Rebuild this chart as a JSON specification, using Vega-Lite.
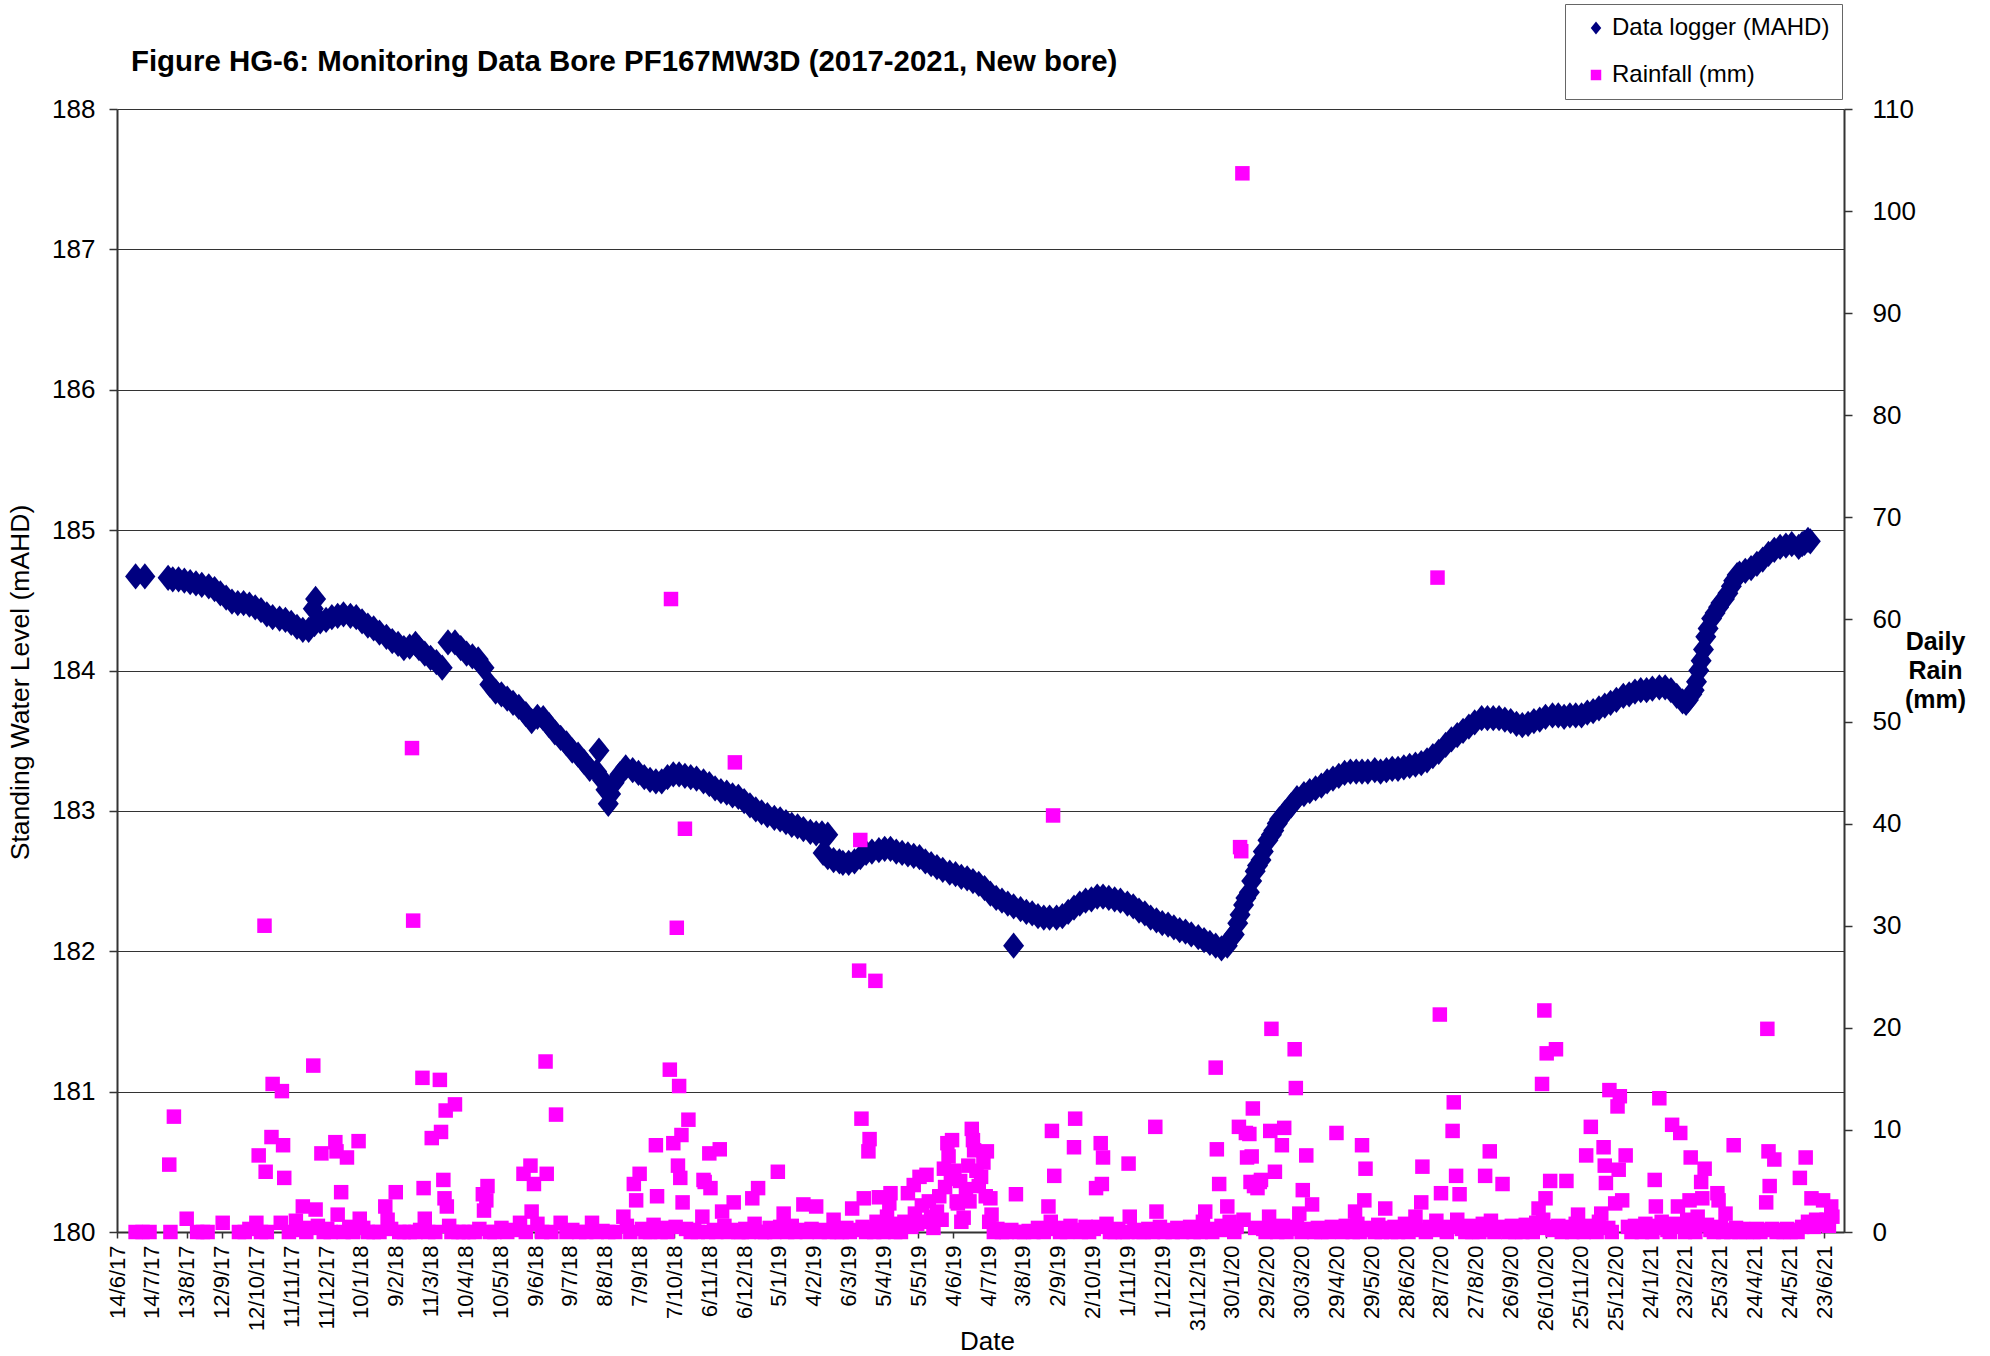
{
"$schema":"https://vega.github.io/schema/vega-lite/v6.json",
"width":1727,"height":1123,
"autosize":{"type":"none"},
"padding":{"left":117,"top":109,"right":146,"bottom":124},
"background":"white",
"title":{"text":"Figure HG-6: Monitoring Data Bore PF167MW3D (2017-2021, New bore)","anchor":"start","frame":"group","dx":14,"dy":122,"offset":25,"fontSize":29.4,"fontWeight":"bold","color":"#000","font":"Liberation Sans","baseline":"alphabetic"},
"config":{"font":"Liberation Sans","view":{"stroke":null},
 "axis":{"labelFont":"Liberation Sans","titleFont":"Liberation Sans","labelColor":"#000","titleColor":"#000","domainColor":"#333","tickColor":"#333","titleFontWeight":"normal"},
 "axisX":{"labelOverlap":false},
 "legend":{"orient":"none","legendX":1448,"legendY":-105,"padding":12,"strokeColor":"#666","fillColor":"#fff","labelFontSize":24,"labelFont":"Liberation Sans","labelColor":"#000","labelLimit":500,"symbolSize":110,"rowPadding":23,"symbolOffset":7,"labelOffset":4,"symbolStrokeWidth":0,"cornerRadius":0}},
"datasets":{
"logger":[
{"t":"2017-06-30","v":184.67},{"t":"2017-07-08","v":184.67},{"t":"2017-07-28","v":184.66},{"t":"2017-08-01","v":184.65},{"t":"2017-08-06","v":184.65},{"t":"2017-08-11","v":184.64},{"t":"2017-08-16","v":184.63},{"t":"2017-08-21","v":184.62},{"t":"2017-08-26","v":184.61},
{"t":"2017-09-01","v":184.60},{"t":"2017-09-06","v":184.58},{"t":"2017-09-11","v":184.55},{"t":"2017-09-16","v":184.52},{"t":"2017-09-21","v":184.49},{"t":"2017-09-26","v":184.48},
{"t":"2017-10-01","v":184.48},{"t":"2017-10-06","v":184.47},{"t":"2017-10-11","v":184.45},{"t":"2017-10-16","v":184.43},{"t":"2017-10-21","v":184.40},{"t":"2017-10-26","v":184.38},
{"t":"2017-11-01","v":184.37},{"t":"2017-11-06","v":184.36},{"t":"2017-11-11","v":184.34},{"t":"2017-11-16","v":184.31},{"t":"2017-11-21","v":184.29},{"t":"2017-11-26","v":184.29},{"t":"2017-11-30","v":184.44},
{"t":"2017-12-01","v":184.33},{"t":"2017-12-02","v":184.51},{"t":"2017-12-06","v":184.35},{"t":"2017-12-11","v":184.36},{"t":"2017-12-16","v":184.38},{"t":"2017-12-21","v":184.39},{"t":"2017-12-26","v":184.40},
{"t":"2018-01-01","v":184.39},{"t":"2018-01-06","v":184.38},{"t":"2018-01-11","v":184.35},{"t":"2018-01-16","v":184.32},{"t":"2018-01-21","v":184.30},{"t":"2018-01-26","v":184.27},
{"t":"2018-02-01","v":184.24},{"t":"2018-02-06","v":184.21},{"t":"2018-02-11","v":184.19},{"t":"2018-02-16","v":184.16},{"t":"2018-02-21","v":184.17},{"t":"2018-02-26","v":184.19},
{"t":"2018-03-01","v":184.16},{"t":"2018-03-06","v":184.12},{"t":"2018-03-11","v":184.09},{"t":"2018-03-16","v":184.06},{"t":"2018-03-21","v":184.02},{"t":"2018-03-26","v":184.20},
{"t":"2018-04-01","v":184.20},{"t":"2018-04-06","v":184.16},{"t":"2018-04-11","v":184.12},{"t":"2018-04-16","v":184.10},{"t":"2018-04-21","v":184.08},{"t":"2018-04-26","v":184.02},
{"t":"2018-05-01","v":183.90},{"t":"2018-05-06","v":183.85},{"t":"2018-05-11","v":183.83},{"t":"2018-05-16","v":183.80},{"t":"2018-05-21","v":183.77},{"t":"2018-05-26","v":183.74},
{"t":"2018-06-01","v":183.69},{"t":"2018-06-06","v":183.64},{"t":"2018-06-11","v":183.67},{"t":"2018-06-16","v":183.66},{"t":"2018-06-21","v":183.61},{"t":"2018-06-26","v":183.56},
{"t":"2018-07-01","v":183.52},{"t":"2018-07-06","v":183.48},{"t":"2018-07-11","v":183.43},{"t":"2018-07-16","v":183.40},{"t":"2018-07-21","v":183.35},{"t":"2018-07-26","v":183.30},
{"t":"2018-08-01","v":183.28},{"t":"2018-08-03","v":183.43},{"t":"2018-08-06","v":183.22},{"t":"2018-08-09","v":183.15},{"t":"2018-08-11","v":183.05},{"t":"2018-08-13","v":183.12},{"t":"2018-08-16","v":183.20},{"t":"2018-08-21","v":183.26},{"t":"2018-08-26","v":183.31},
{"t":"2018-09-01","v":183.29},{"t":"2018-09-06","v":183.27},{"t":"2018-09-11","v":183.24},{"t":"2018-09-16","v":183.22},{"t":"2018-09-21","v":183.21},{"t":"2018-09-26","v":183.21},
{"t":"2018-10-01","v":183.24},{"t":"2018-10-06","v":183.26},{"t":"2018-10-11","v":183.26},{"t":"2018-10-16","v":183.25},{"t":"2018-10-21","v":183.24},{"t":"2018-10-26","v":183.23},
{"t":"2018-11-01","v":183.21},{"t":"2018-11-06","v":183.19},{"t":"2018-11-11","v":183.16},{"t":"2018-11-16","v":183.14},{"t":"2018-11-21","v":183.13},{"t":"2018-11-26","v":183.11},
{"t":"2018-12-01","v":183.10},{"t":"2018-12-06","v":183.07},{"t":"2018-12-11","v":183.04},{"t":"2018-12-16","v":183.01},{"t":"2018-12-21","v":182.99},{"t":"2018-12-26","v":182.97},
{"t":"2019-01-01","v":182.95},{"t":"2019-01-06","v":182.94},{"t":"2019-01-11","v":182.92},{"t":"2019-01-16","v":182.90},{"t":"2019-01-21","v":182.89},{"t":"2019-01-26","v":182.87},
{"t":"2019-02-01","v":182.85},{"t":"2019-02-06","v":182.84},{"t":"2019-02-11","v":182.84},{"t":"2019-02-16","v":182.83},{"t":"2019-02-12","v":182.70},{"t":"2019-02-16","v":182.67},{"t":"2019-02-21","v":182.65},{"t":"2019-02-26","v":182.64},
{"t":"2019-03-01","v":182.63},{"t":"2019-03-06","v":182.63},{"t":"2019-03-11","v":182.64},{"t":"2019-03-16","v":182.67},{"t":"2019-03-21","v":182.70},{"t":"2019-03-26","v":182.71},
{"t":"2019-04-01","v":182.72},{"t":"2019-04-06","v":182.73},{"t":"2019-04-11","v":182.73},{"t":"2019-04-16","v":182.71},{"t":"2019-04-21","v":182.70},{"t":"2019-04-26","v":182.69},
{"t":"2019-05-01","v":182.68},{"t":"2019-05-06","v":182.67},{"t":"2019-05-11","v":182.64},{"t":"2019-05-16","v":182.62},{"t":"2019-05-21","v":182.60},{"t":"2019-05-26","v":182.58},
{"t":"2019-06-01","v":182.56},{"t":"2019-06-06","v":182.55},{"t":"2019-06-11","v":182.53},{"t":"2019-06-16","v":182.52},{"t":"2019-06-21","v":182.50},{"t":"2019-06-26","v":182.48},
{"t":"2019-07-01","v":182.45},{"t":"2019-07-06","v":182.41},{"t":"2019-07-11","v":182.38},{"t":"2019-07-16","v":182.36},{"t":"2019-07-21","v":182.34},{"t":"2019-07-26","v":182.32},{"t":"2019-07-26","v":182.04},
{"t":"2019-08-01","v":182.30},{"t":"2019-08-06","v":182.28},{"t":"2019-08-11","v":182.27},{"t":"2019-08-16","v":182.25},{"t":"2019-08-21","v":182.24},{"t":"2019-08-26","v":182.24},
{"t":"2019-09-01","v":182.24},{"t":"2019-09-06","v":182.25},{"t":"2019-09-11","v":182.28},{"t":"2019-09-16","v":182.31},{"t":"2019-09-21","v":182.34},{"t":"2019-09-26","v":182.36},
{"t":"2019-10-01","v":182.37},{"t":"2019-10-06","v":182.39},{"t":"2019-10-11","v":182.39},{"t":"2019-10-16","v":182.38},{"t":"2019-10-21","v":182.37},{"t":"2019-10-26","v":182.36},
{"t":"2019-11-01","v":182.34},{"t":"2019-11-06","v":182.32},{"t":"2019-11-11","v":182.29},{"t":"2019-11-16","v":182.27},{"t":"2019-11-21","v":182.24},{"t":"2019-11-26","v":182.22},
{"t":"2019-12-01","v":182.20},{"t":"2019-12-06","v":182.19},{"t":"2019-12-11","v":182.17},{"t":"2019-12-16","v":182.15},{"t":"2019-12-21","v":182.14},{"t":"2019-12-26","v":182.12},
{"t":"2020-01-01","v":182.10},{"t":"2020-01-06","v":182.08},{"t":"2020-01-11","v":182.06},{"t":"2020-01-16","v":182.04},{"t":"2020-01-21","v":182.02},{"t":"2020-01-26","v":182.04},{"t":"2020-01-30","v":182.10},
{"t":"2020-02-01","v":182.12},{"t":"2020-02-04","v":182.20},{"t":"2020-02-06","v":182.26},{"t":"2020-02-09","v":182.33},{"t":"2020-02-11","v":182.38},{"t":"2020-02-14","v":182.42},{"t":"2020-02-16","v":182.50},{"t":"2020-02-19","v":182.57},{"t":"2020-02-21","v":182.61},{"t":"2020-02-24","v":182.65},{"t":"2020-02-26","v":182.71},
{"t":"2020-03-01","v":182.79},{"t":"2020-03-04","v":182.83},{"t":"2020-03-06","v":182.86},{"t":"2020-03-09","v":182.91},{"t":"2020-03-11","v":182.94},{"t":"2020-03-16","v":182.99},{"t":"2020-03-21","v":183.04},{"t":"2020-03-26","v":183.09},
{"t":"2020-04-01","v":183.12},{"t":"2020-04-06","v":183.14},{"t":"2020-04-11","v":183.16},{"t":"2020-04-16","v":183.18},{"t":"2020-04-21","v":183.21},{"t":"2020-04-26","v":183.23},
{"t":"2020-05-01","v":183.25},{"t":"2020-05-06","v":183.27},{"t":"2020-05-11","v":183.28},{"t":"2020-05-16","v":183.28},{"t":"2020-05-21","v":183.28},{"t":"2020-05-26","v":183.28},
{"t":"2020-06-01","v":183.29},{"t":"2020-06-06","v":183.28},{"t":"2020-06-11","v":183.29},{"t":"2020-06-16","v":183.30},{"t":"2020-06-21","v":183.30},{"t":"2020-06-26","v":183.31},
{"t":"2020-07-01","v":183.32},{"t":"2020-07-06","v":183.33},{"t":"2020-07-11","v":183.34},{"t":"2020-07-16","v":183.36},{"t":"2020-07-21","v":183.39},{"t":"2020-07-26","v":183.42},
{"t":"2020-08-01","v":183.47},{"t":"2020-08-06","v":183.51},{"t":"2020-08-11","v":183.54},{"t":"2020-08-16","v":183.57},{"t":"2020-08-21","v":183.60},{"t":"2020-08-26","v":183.63},
{"t":"2020-09-01","v":183.66},{"t":"2020-09-06","v":183.66},{"t":"2020-09-11","v":183.66},{"t":"2020-09-16","v":183.66},{"t":"2020-09-21","v":183.65},{"t":"2020-09-26","v":183.64},
{"t":"2020-10-01","v":183.62},{"t":"2020-10-06","v":183.61},{"t":"2020-10-11","v":183.62},{"t":"2020-10-16","v":183.64},{"t":"2020-10-21","v":183.65},{"t":"2020-10-26","v":183.67},
{"t":"2020-11-01","v":183.68},{"t":"2020-11-06","v":183.68},{"t":"2020-11-11","v":183.67},{"t":"2020-11-16","v":183.68},{"t":"2020-11-21","v":183.68},{"t":"2020-11-26","v":183.68},
{"t":"2020-12-01","v":183.70},{"t":"2020-12-06","v":183.71},{"t":"2020-12-11","v":183.73},{"t":"2020-12-16","v":183.75},{"t":"2020-12-21","v":183.77},{"t":"2020-12-26","v":183.79},
{"t":"2021-01-01","v":183.82},{"t":"2021-01-06","v":183.83},{"t":"2021-01-11","v":183.85},{"t":"2021-01-16","v":183.86},{"t":"2021-01-21","v":183.86},{"t":"2021-01-26","v":183.87},
{"t":"2021-02-01","v":183.88},{"t":"2021-02-06","v":183.88},{"t":"2021-02-11","v":183.86},{"t":"2021-02-16","v":183.82},{"t":"2021-02-21","v":183.78},{"t":"2021-02-24","v":183.77},{"t":"2021-02-26","v":183.79},
{"t":"2021-03-01","v":183.83},{"t":"2021-03-03","v":183.86},{"t":"2021-03-05","v":183.92},{"t":"2021-03-07","v":184.00},{"t":"2021-03-09","v":184.07},{"t":"2021-03-11","v":184.15},{"t":"2021-03-13","v":184.24},{"t":"2021-03-15","v":184.30},{"t":"2021-03-18","v":184.37},{"t":"2021-03-21","v":184.41},{"t":"2021-03-24","v":184.45},{"t":"2021-03-26","v":184.48},{"t":"2021-03-29","v":184.51},
{"t":"2021-04-01","v":184.55},{"t":"2021-04-04","v":184.60},{"t":"2021-04-06","v":184.64},{"t":"2021-04-09","v":184.68},{"t":"2021-04-11","v":184.69},{"t":"2021-04-16","v":184.71},{"t":"2021-04-21","v":184.73},{"t":"2021-04-26","v":184.76},
{"t":"2021-05-01","v":184.79},{"t":"2021-05-06","v":184.83},{"t":"2021-05-11","v":184.86},{"t":"2021-05-16","v":184.88},{"t":"2021-05-21","v":184.89},{"t":"2021-05-26","v":184.90},
{"t":"2021-06-01","v":184.88},{"t":"2021-06-04","v":184.90},{"t":"2021-06-06","v":184.91},{"t":"2021-06-09","v":184.93},{"t":"2021-06-11","v":184.92}
],
"rain":[
{"t":"2017-06-30","r":0},{"t":"2017-07-06","r":0},{"t":"2017-07-12","r":0},{"t":"2017-07-29","r":6.6},{"t":"2017-07-30","r":0},{"t":"2017-08-02","r":11.3},{"t":"2017-08-13","r":1.3},{"t":"2017-08-22","r":0},{"t":"2017-08-27","r":0},{"t":"2017-08-31","r":0},
{"t":"2017-09-13","r":0.9},{"t":"2017-09-27","r":0},{"t":"2017-10-02","r":0},{"t":"2017-10-06","r":0.3},{"t":"2017-10-12","r":0.9},{"t":"2017-10-14","r":7.5},{"t":"2017-10-16","r":0},{"t":"2017-10-19","r":30.0},{"t":"2017-10-20","r":5.9},{"t":"2017-10-21","r":0},{"t":"2017-10-25","r":9.3},{"t":"2017-10-26","r":14.5},
{"t":"2017-11-02","r":0.9},{"t":"2017-11-03","r":13.8},{"t":"2017-11-04","r":8.5},{"t":"2017-11-05","r":5.3},{"t":"2017-11-09","r":0},{"t":"2017-11-15","r":1.1},{"t":"2017-11-18","r":0.2},{"t":"2017-11-21","r":2.5},{"t":"2017-11-24","r":0},{"t":"2017-11-27","r":0.4},{"t":"2017-11-30","r":16.3},
{"t":"2017-12-02","r":2.2},{"t":"2017-12-04","r":0.6},{"t":"2017-12-07","r":7.7},{"t":"2017-12-09","r":0},{"t":"2017-12-12","r":0.3},{"t":"2017-12-15","r":0},{"t":"2017-12-19","r":8.8},{"t":"2017-12-20","r":7.9},{"t":"2017-12-21","r":1.7},{"t":"2017-12-24","r":3.9},{"t":"2017-12-26","r":0},{"t":"2017-12-29","r":7.3},{"t":"2017-12-31","r":0.5},
{"t":"2018-01-03","r":0},{"t":"2018-01-08","r":8.9},{"t":"2018-01-09","r":1.3},{"t":"2018-01-12","r":0.4},{"t":"2018-01-16","r":0},{"t":"2018-01-21","r":0},{"t":"2018-01-26","r":0},{"t":"2018-01-31","r":2.5},
{"t":"2018-02-02","r":1.2},{"t":"2018-02-05","r":0.3},{"t":"2018-02-09","r":3.9},{"t":"2018-02-12","r":0},{"t":"2018-02-16","r":0},{"t":"2018-02-21","r":0},{"t":"2018-02-23","r":47.4},{"t":"2018-02-24","r":30.5},{"t":"2018-02-26","r":0},
{"t":"2018-03-02","r":0.2},{"t":"2018-03-04","r":15.1},{"t":"2018-03-05","r":4.3},{"t":"2018-03-06","r":1.3},{"t":"2018-03-09","r":0},{"t":"2018-03-12","r":9.2},{"t":"2018-03-15","r":0},{"t":"2018-03-19","r":14.9},{"t":"2018-03-20","r":9.8},{"t":"2018-03-22","r":5.1},{"t":"2018-03-23","r":3.3},{"t":"2018-03-24","r":11.9},{"t":"2018-03-25","r":2.5},{"t":"2018-03-27","r":0.6},{"t":"2018-03-29","r":0},
{"t":"2018-04-01","r":12.5},{"t":"2018-04-04","r":0},{"t":"2018-04-08","r":0},{"t":"2018-04-13","r":0},{"t":"2018-04-18","r":0},{"t":"2018-04-22","r":0.3},{"t":"2018-04-25","r":3.7},{"t":"2018-04-26","r":2.1},{"t":"2018-04-28","r":3.1},{"t":"2018-04-29","r":4.5},
{"t":"2018-05-01","r":0},{"t":"2018-05-05","r":0},{"t":"2018-05-11","r":0.4},{"t":"2018-05-16","r":0},{"t":"2018-05-21","r":0.2},{"t":"2018-05-27","r":0.9},{"t":"2018-05-30","r":5.7},
{"t":"2018-06-01","r":0},{"t":"2018-06-05","r":6.5},{"t":"2018-06-06","r":2.0},{"t":"2018-06-08","r":4.7},{"t":"2018-06-11","r":0.8},{"t":"2018-06-15","r":0},{"t":"2018-06-18","r":16.7},{"t":"2018-06-19","r":5.7},{"t":"2018-06-23","r":0},{"t":"2018-06-27","r":11.5},
{"t":"2018-07-01","r":0.9},{"t":"2018-07-06","r":0},{"t":"2018-07-11","r":0.2},{"t":"2018-07-17","r":0},{"t":"2018-07-23","r":0},{"t":"2018-07-28","r":0.9},
{"t":"2018-08-01","r":0},{"t":"2018-08-06","r":0.1},{"t":"2018-08-11","r":0},{"t":"2018-08-17","r":0},{"t":"2018-08-24","r":1.5},{"t":"2018-08-27","r":0.6},{"t":"2018-08-30","r":0},
{"t":"2018-09-02","r":4.7},{"t":"2018-09-04","r":3.1},{"t":"2018-09-07","r":5.7},{"t":"2018-09-09","r":0.3},{"t":"2018-09-12","r":0},{"t":"2018-09-16","r":0},{"t":"2018-09-19","r":0.7},{"t":"2018-09-21","r":8.5},{"t":"2018-09-22","r":3.5},{"t":"2018-09-25","r":0},{"t":"2018-09-28","r":0.4},
{"t":"2018-10-01","r":0},{"t":"2018-10-03","r":15.9},{"t":"2018-10-04","r":62.0},{"t":"2018-10-06","r":8.7},{"t":"2018-10-08","r":0.5},{"t":"2018-10-09","r":29.8},{"t":"2018-10-10","r":6.5},{"t":"2018-10-11","r":14.3},{"t":"2018-10-12","r":5.3},{"t":"2018-10-13","r":9.5},{"t":"2018-10-14","r":2.9},{"t":"2018-10-16","r":39.5},{"t":"2018-10-17","r":0.3},{"t":"2018-10-19","r":11.0},{"t":"2018-10-21","r":0},{"t":"2018-10-24","r":0.2},{"t":"2018-10-27","r":0},{"t":"2018-10-31","r":1.5},
{"t":"2018-11-01","r":5.1},{"t":"2018-11-02","r":4.9},{"t":"2018-11-05","r":0},{"t":"2018-11-06","r":7.7},{"t":"2018-11-07","r":4.3},{"t":"2018-11-10","r":0.2},{"t":"2018-11-12","r":0},{"t":"2018-11-15","r":8.1},{"t":"2018-11-17","r":2.0},{"t":"2018-11-19","r":0.6},{"t":"2018-11-22","r":0},{"t":"2018-11-25","r":0.2},{"t":"2018-11-27","r":2.9},{"t":"2018-11-28","r":46.0},
{"t":"2018-12-01","r":0},{"t":"2018-12-04","r":0},{"t":"2018-12-07","r":0.3},{"t":"2018-12-10","r":0},{"t":"2018-12-13","r":3.3},{"t":"2018-12-15","r":0.8},{"t":"2018-12-18","r":4.3},{"t":"2018-12-21","r":0},{"t":"2018-12-24","r":0},{"t":"2018-12-28","r":0.4},
{"t":"2019-01-01","r":0},{"t":"2019-01-04","r":5.9},{"t":"2019-01-06","r":0.5},{"t":"2019-01-09","r":1.8},{"t":"2019-01-12","r":0},{"t":"2019-01-16","r":0.6},{"t":"2019-01-19","r":0},{"t":"2019-01-23","r":0.2},{"t":"2019-01-26","r":2.7},{"t":"2019-01-29","r":0},
{"t":"2019-02-02","r":0.3},{"t":"2019-02-06","r":2.5},{"t":"2019-02-09","r":0},{"t":"2019-02-13","r":0.2},{"t":"2019-02-17","r":0},{"t":"2019-02-21","r":1.2},{"t":"2019-02-24","r":0},{"t":"2019-02-28","r":0},
{"t":"2019-03-04","r":0.4},{"t":"2019-03-07","r":0},{"t":"2019-03-09","r":2.3},{"t":"2019-03-12","r":0.2},{"t":"2019-03-15","r":25.6},{"t":"2019-03-16","r":38.4},{"t":"2019-03-17","r":11.1},{"t":"2019-03-18","r":0.5},{"t":"2019-03-19","r":3.3},{"t":"2019-03-21","r":0},{"t":"2019-03-23","r":7.9},{"t":"2019-03-24","r":9.1},{"t":"2019-03-26","r":0.3},{"t":"2019-03-28","r":0},{"t":"2019-03-29","r":24.6},{"t":"2019-03-30","r":1.0},
{"t":"2019-04-01","r":3.4},{"t":"2019-04-03","r":0.6},{"t":"2019-04-05","r":0},{"t":"2019-04-08","r":1.5},{"t":"2019-04-10","r":2.8},{"t":"2019-04-11","r":3.8},{"t":"2019-04-13","r":0.4},{"t":"2019-04-15","r":0},{"t":"2019-04-18","r":0.8},{"t":"2019-04-20","r":0},{"t":"2019-04-23","r":1.0},{"t":"2019-04-26","r":3.8},{"t":"2019-04-29","r":0.5},
{"t":"2019-05-01","r":4.6},{"t":"2019-05-02","r":1.8},{"t":"2019-05-04","r":0.8},{"t":"2019-05-06","r":5.4},{"t":"2019-05-08","r":2.6},{"t":"2019-05-10","r":1.0},{"t":"2019-05-12","r":5.6},{"t":"2019-05-14","r":3.0},{"t":"2019-05-16","r":1.5},{"t":"2019-05-18","r":0.4},{"t":"2019-05-21","r":2.0},{"t":"2019-05-23","r":3.5},{"t":"2019-05-25","r":1.2},{"t":"2019-05-27","r":6.2},{"t":"2019-05-28","r":4.4},{"t":"2019-05-30","r":8.7},{"t":"2019-05-31","r":7.4},
{"t":"2019-06-02","r":5.2},{"t":"2019-06-03","r":9.0},{"t":"2019-06-05","r":6.0},{"t":"2019-06-07","r":3.0},{"t":"2019-06-08","r":2.8},{"t":"2019-06-10","r":5.0},{"t":"2019-06-11","r":1.0},{"t":"2019-06-13","r":1.4},{"t":"2019-06-15","r":4.2},{"t":"2019-06-17","r":6.5},{"t":"2019-06-18","r":3.0},{"t":"2019-06-20","r":10.1},{"t":"2019-06-21","r":9.0},{"t":"2019-06-22","r":8.0},{"t":"2019-06-24","r":6.0},{"t":"2019-06-26","r":4.5},{"t":"2019-06-28","r":5.4},{"t":"2019-06-30","r":6.8},
{"t":"2019-07-02","r":3.5},{"t":"2019-07-03","r":7.9},{"t":"2019-07-05","r":1.0},{"t":"2019-07-06","r":3.3},{"t":"2019-07-07","r":1.7},{"t":"2019-07-09","r":0},{"t":"2019-07-12","r":0.3},{"t":"2019-07-16","r":0},{"t":"2019-07-20","r":0},{"t":"2019-07-24","r":0.2},{"t":"2019-07-28","r":3.7},{"t":"2019-07-31","r":0},
{"t":"2019-08-04","r":0},{"t":"2019-08-08","r":0.1},{"t":"2019-08-12","r":0},{"t":"2019-08-16","r":0.4},{"t":"2019-08-21","r":0},{"t":"2019-08-25","r":2.5},{"t":"2019-08-27","r":1.0},{"t":"2019-08-28","r":9.9},{"t":"2019-08-29","r":40.8},{"t":"2019-08-30","r":5.5},
{"t":"2019-09-01","r":0.3},{"t":"2019-09-04","r":0},{"t":"2019-09-07","r":0.4},{"t":"2019-09-10","r":0},{"t":"2019-09-13","r":0.6},{"t":"2019-09-16","r":8.3},{"t":"2019-09-17","r":11.1},{"t":"2019-09-19","r":0.2},{"t":"2019-09-22","r":0},{"t":"2019-09-26","r":0.5},{"t":"2019-09-29","r":0},
{"t":"2019-10-03","r":0.3},{"t":"2019-10-05","r":4.3},{"t":"2019-10-07","r":0.5},{"t":"2019-10-09","r":8.7},{"t":"2019-10-10","r":4.7},{"t":"2019-10-11","r":7.3},{"t":"2019-10-14","r":0.8},{"t":"2019-10-17","r":0},{"t":"2019-10-21","r":0},{"t":"2019-10-24","r":0.3},{"t":"2019-10-28","r":0},
{"t":"2019-11-01","r":0},{"t":"2019-11-02","r":6.7},{"t":"2019-11-03","r":1.5},{"t":"2019-11-07","r":0.2},{"t":"2019-11-11","r":0},{"t":"2019-11-15","r":0},{"t":"2019-11-19","r":0.3},{"t":"2019-11-23","r":0},{"t":"2019-11-25","r":10.3},{"t":"2019-11-26","r":2.0},{"t":"2019-11-29","r":0.5},
{"t":"2019-12-03","r":0},{"t":"2019-12-06","r":0.2},{"t":"2019-12-10","r":0},{"t":"2019-12-14","r":0.4},{"t":"2019-12-18","r":0},{"t":"2019-12-21","r":0.3},{"t":"2019-12-25","r":0.5},{"t":"2019-12-28","r":0},{"t":"2019-12-31","r":0.4},
{"t":"2020-01-03","r":0},{"t":"2020-01-05","r":1.0},{"t":"2020-01-07","r":2.0},{"t":"2020-01-10","r":0.3},{"t":"2020-01-13","r":0},{"t":"2020-01-16","r":16.1},{"t":"2020-01-17","r":8.1},{"t":"2020-01-19","r":4.7},{"t":"2020-01-21","r":0.6},{"t":"2020-01-23","r":0.2},{"t":"2020-01-26","r":2.5},{"t":"2020-01-28","r":1.0},{"t":"2020-01-30","r":0.3},
{"t":"2020-02-01","r":0},{"t":"2020-02-03","r":0.5},{"t":"2020-02-05","r":10.3},{"t":"2020-02-06","r":37.7},{"t":"2020-02-07","r":37.3},{"t":"2020-02-08","r":103.7},{"t":"2020-02-09","r":1.2},{"t":"2020-02-11","r":9.7},{"t":"2020-02-12","r":7.3},{"t":"2020-02-14","r":9.6},{"t":"2020-02-15","r":4.9},{"t":"2020-02-16","r":7.4},{"t":"2020-02-17","r":12.1},{"t":"2020-02-18","r":4.5},{"t":"2020-02-19","r":0.4},{"t":"2020-02-21","r":4.3},{"t":"2020-02-23","r":4.9},{"t":"2020-02-24","r":5.1},{"t":"2020-02-26","r":0.3},{"t":"2020-02-28","r":0},
{"t":"2020-03-02","r":1.5},{"t":"2020-03-03","r":9.9},{"t":"2020-03-04","r":19.9},{"t":"2020-03-06","r":0.5},{"t":"2020-03-07","r":5.9},{"t":"2020-03-09","r":0},{"t":"2020-03-13","r":8.5},{"t":"2020-03-14","r":0.6},{"t":"2020-03-15","r":10.2},{"t":"2020-03-17","r":0},{"t":"2020-03-20","r":0.3},{"t":"2020-03-24","r":17.9},{"t":"2020-03-25","r":14.1},{"t":"2020-03-26","r":0.5},{"t":"2020-03-28","r":1.8},{"t":"2020-03-30","r":0},{"t":"2020-03-31","r":4.1},
{"t":"2020-04-03","r":7.5},{"t":"2020-04-05","r":0.3},{"t":"2020-04-08","r":2.7},{"t":"2020-04-10","r":0},{"t":"2020-04-13","r":0.4},{"t":"2020-04-16","r":0},{"t":"2020-04-19","r":0.2},{"t":"2020-04-22","r":0},{"t":"2020-04-25","r":0.5},{"t":"2020-04-29","r":9.7},
{"t":"2020-05-01","r":0.3},{"t":"2020-05-04","r":0},{"t":"2020-05-07","r":0.6},{"t":"2020-05-10","r":0.2},{"t":"2020-05-13","r":0},{"t":"2020-05-15","r":2.0},{"t":"2020-05-17","r":0.8},{"t":"2020-05-19","r":0},{"t":"2020-05-21","r":8.5},{"t":"2020-05-23","r":3.1},{"t":"2020-05-24","r":6.2},{"t":"2020-05-26","r":0.4},{"t":"2020-05-29","r":0.2},
{"t":"2020-06-01","r":0},{"t":"2020-06-04","r":0.7},{"t":"2020-06-07","r":0},{"t":"2020-06-10","r":2.3},{"t":"2020-06-12","r":0.4},{"t":"2020-06-15","r":0},{"t":"2020-06-18","r":0.5},{"t":"2020-06-21","r":0},{"t":"2020-06-24","r":0.3},{"t":"2020-06-27","r":0.8},{"t":"2020-06-30","r":0},
{"t":"2020-07-03","r":0.5},{"t":"2020-07-06","r":1.5},{"t":"2020-07-08","r":0.2},{"t":"2020-07-11","r":2.9},{"t":"2020-07-12","r":6.4},{"t":"2020-07-15","r":0},{"t":"2020-07-18","r":0.5},{"t":"2020-07-21","r":0.2},{"t":"2020-07-24","r":1.1},{"t":"2020-07-25","r":64.1},{"t":"2020-07-27","r":21.3},{"t":"2020-07-28","r":3.8},{"t":"2020-07-30","r":0.4},
{"t":"2020-08-02","r":0},{"t":"2020-08-05","r":0.5},{"t":"2020-08-07","r":9.9},{"t":"2020-08-08","r":12.7},{"t":"2020-08-10","r":5.5},{"t":"2020-08-11","r":1.2},{"t":"2020-08-13","r":3.7},{"t":"2020-08-15","r":0.3},{"t":"2020-08-18","r":0},{"t":"2020-08-21","r":0.6},{"t":"2020-08-24","r":0},{"t":"2020-08-27","r":0.4},{"t":"2020-08-30","r":0},
{"t":"2020-09-02","r":0.8},{"t":"2020-09-04","r":5.5},{"t":"2020-09-06","r":0.2},{"t":"2020-09-08","r":7.9},{"t":"2020-09-09","r":1.1},{"t":"2020-09-12","r":0},{"t":"2020-09-15","r":0.5},{"t":"2020-09-19","r":4.7},{"t":"2020-09-21","r":0.3},{"t":"2020-09-24","r":0},{"t":"2020-09-27","r":0.6},{"t":"2020-09-30","r":0},
{"t":"2020-10-03","r":0.4},{"t":"2020-10-06","r":0},{"t":"2020-10-09","r":0.7},{"t":"2020-10-12","r":0.2},{"t":"2020-10-15","r":0},{"t":"2020-10-18","r":0.9},{"t":"2020-10-20","r":2.3},{"t":"2020-10-22","r":0.4},{"t":"2020-10-23","r":14.5},{"t":"2020-10-24","r":1.2},{"t":"2020-10-25","r":21.7},{"t":"2020-10-26","r":3.3},{"t":"2020-10-27","r":17.5},{"t":"2020-10-29","r":0.5},{"t":"2020-10-30","r":5.0},
{"t":"2020-11-01","r":0.2},{"t":"2020-11-04","r":17.9},{"t":"2020-11-06","r":0.6},{"t":"2020-11-09","r":0},{"t":"2020-11-13","r":5.0},{"t":"2020-11-15","r":0.5},{"t":"2020-11-18","r":0},{"t":"2020-11-21","r":0.8},{"t":"2020-11-23","r":1.7},{"t":"2020-11-25","r":0.3},{"t":"2020-11-28","r":0},{"t":"2020-11-30","r":7.5},
{"t":"2020-12-02","r":0.6},{"t":"2020-12-04","r":10.3},{"t":"2020-12-06","r":0.2},{"t":"2020-12-09","r":0},{"t":"2020-12-11","r":1.0},{"t":"2020-12-13","r":1.8},{"t":"2020-12-15","r":8.3},{"t":"2020-12-16","r":6.5},{"t":"2020-12-17","r":4.8},{"t":"2020-12-19","r":0.4},{"t":"2020-12-20","r":13.9},{"t":"2020-12-22","r":0},{"t":"2020-12-25","r":2.8},{"t":"2020-12-27","r":12.3},{"t":"2020-12-28","r":6.1},{"t":"2020-12-29","r":13.3},{"t":"2020-12-31","r":3.1},
{"t":"2021-01-03","r":7.5},{"t":"2021-01-05","r":0.5},{"t":"2021-01-08","r":0},{"t":"2021-01-11","r":0.6},{"t":"2021-01-14","r":0.2},{"t":"2021-01-17","r":0},{"t":"2021-01-20","r":0.8},{"t":"2021-01-23","r":0.3},{"t":"2021-01-26","r":0},{"t":"2021-01-28","r":5.1},{"t":"2021-01-29","r":2.5},{"t":"2021-01-31","r":0.6},
{"t":"2021-02-01","r":13.1},{"t":"2021-02-03","r":1.0},{"t":"2021-02-05","r":0.4},{"t":"2021-02-08","r":0.2},{"t":"2021-02-10","r":0},{"t":"2021-02-12","r":10.5},{"t":"2021-02-14","r":0.8},{"t":"2021-02-17","r":2.5},{"t":"2021-02-19","r":9.7},{"t":"2021-02-21","r":0.5},{"t":"2021-02-23","r":0},{"t":"2021-02-25","r":1.2},{"t":"2021-02-27","r":3.1},{"t":"2021-02-28","r":7.3},
{"t":"2021-03-02","r":0.4},{"t":"2021-03-04","r":0},{"t":"2021-03-06","r":1.5},{"t":"2021-03-09","r":4.9},{"t":"2021-03-10","r":3.3},{"t":"2021-03-12","r":6.2},{"t":"2021-03-14","r":0.7},{"t":"2021-03-17","r":0.2},{"t":"2021-03-20","r":0},{"t":"2021-03-23","r":3.8},{"t":"2021-03-24","r":3.1},{"t":"2021-03-26","r":0.5},{"t":"2021-03-28","r":0},{"t":"2021-03-30","r":1.8},
{"t":"2021-04-01","r":0.2},{"t":"2021-04-04","r":0},{"t":"2021-04-06","r":8.5},{"t":"2021-04-08","r":0.4},{"t":"2021-04-11","r":0},{"t":"2021-04-14","r":0.3},{"t":"2021-04-17","r":0},{"t":"2021-04-20","r":0.2},{"t":"2021-04-23","r":0},{"t":"2021-04-26","r":0.3},{"t":"2021-04-29","r":0},
{"t":"2021-05-02","r":0.2},{"t":"2021-05-04","r":2.9},{"t":"2021-05-05","r":19.9},{"t":"2021-05-06","r":7.9},{"t":"2021-05-07","r":4.5},{"t":"2021-05-09","r":0.3},{"t":"2021-05-11","r":7.1},{"t":"2021-05-13","r":0},{"t":"2021-05-16","r":0.2},{"t":"2021-05-19","r":0},{"t":"2021-05-22","r":0.3},{"t":"2021-05-25","r":0},{"t":"2021-05-28","r":0.2},{"t":"2021-05-31","r":0},
{"t":"2021-06-02","r":5.3},{"t":"2021-06-04","r":0.5},{"t":"2021-06-07","r":7.3},{"t":"2021-06-09","r":1.0},{"t":"2021-06-12","r":3.3},{"t":"2021-06-14","r":0.5},{"t":"2021-06-16","r":1.2},{"t":"2021-06-19","r":0.8},{"t":"2021-06-22","r":3.1},{"t":"2021-06-25","r":1.2},{"t":"2021-06-27","r":0.6},{"t":"2021-06-29","r":2.5},{"t":"2021-06-30","r":1.5}
]},
"encoding":{
  "x":{"field":"t","type":"temporal",
   "scale":{"type":"utc","domain":[{"year":2017,"month":6,"date":14,"utc":true},{"year":2021,"month":7,"date":10,"utc":true}]},
   "axis":{"values":[
    {"year":2017,"month":6,"date":14,"utc":true},{"year":2017,"month":7,"date":14,"utc":true},{"year":2017,"month":8,"date":13,"utc":true},{"year":2017,"month":9,"date":12,"utc":true},{"year":2017,"month":10,"date":12,"utc":true},{"year":2017,"month":11,"date":11,"utc":true},{"year":2017,"month":12,"date":11,"utc":true},
    {"year":2018,"month":1,"date":10,"utc":true},{"year":2018,"month":2,"date":9,"utc":true},{"year":2018,"month":3,"date":11,"utc":true},{"year":2018,"month":4,"date":10,"utc":true},{"year":2018,"month":5,"date":10,"utc":true},{"year":2018,"month":6,"date":9,"utc":true},{"year":2018,"month":7,"date":9,"utc":true},{"year":2018,"month":8,"date":8,"utc":true},{"year":2018,"month":9,"date":7,"utc":true},{"year":2018,"month":10,"date":7,"utc":true},{"year":2018,"month":11,"date":6,"utc":true},{"year":2018,"month":12,"date":6,"utc":true},
    {"year":2019,"month":1,"date":5,"utc":true},{"year":2019,"month":2,"date":4,"utc":true},{"year":2019,"month":3,"date":6,"utc":true},{"year":2019,"month":4,"date":5,"utc":true},{"year":2019,"month":5,"date":5,"utc":true},{"year":2019,"month":6,"date":4,"utc":true},{"year":2019,"month":7,"date":4,"utc":true},{"year":2019,"month":8,"date":3,"utc":true},{"year":2019,"month":9,"date":2,"utc":true},{"year":2019,"month":10,"date":2,"utc":true},{"year":2019,"month":11,"date":1,"utc":true},{"year":2019,"month":12,"date":1,"utc":true},{"year":2019,"month":12,"date":31,"utc":true},
    {"year":2020,"month":1,"date":30,"utc":true},{"year":2020,"month":2,"date":29,"utc":true},{"year":2020,"month":3,"date":30,"utc":true},{"year":2020,"month":4,"date":29,"utc":true},{"year":2020,"month":5,"date":29,"utc":true},{"year":2020,"month":6,"date":28,"utc":true},{"year":2020,"month":7,"date":28,"utc":true},{"year":2020,"month":8,"date":27,"utc":true},{"year":2020,"month":9,"date":26,"utc":true},{"year":2020,"month":10,"date":26,"utc":true},{"year":2020,"month":11,"date":25,"utc":true},{"year":2020,"month":12,"date":25,"utc":true},
    {"year":2021,"month":1,"date":24,"utc":true},{"year":2021,"month":2,"date":23,"utc":true},{"year":2021,"month":3,"date":25,"utc":true},{"year":2021,"month":4,"date":24,"utc":true},{"year":2021,"month":5,"date":24,"utc":true},{"year":2021,"month":6,"date":23,"utc":true}],
    "labelExpr":"utcFormat(datum.value, '%-d/%-m/%y')","labelAngle":-90,"labelAlign":"right","labelBaseline":"middle","labelFontSize":22,"labelPadding":7,"labelOverlap":false,"labelFlush":false,"labelBound":false,
    "tickSize":6,"tickWidth":1.5,"domainWidth":2,"grid":false,
    "title":"Date","titleFontSize":26,"titleX":870,"titleY":117,"titleAlign":"center","titleBaseline":"alphabetic"}}
},
"layer":[
{"data":{"name":"logger"},
 "mark":{"type":"point","filled":true,"opacity":1,"size":441,"strokeWidth":0},
 "encoding":{
  "y":{"field":"v","type":"quantitative","scale":{"domain":[180,188],"nice":false,"zero":false},
   "axis":{"values":[180,181,182,183,184,185,186,187,188],"format":"d","grid":true,"gridColor":"#333","gridWidth":1.2,"domainWidth":2,"tickSize":8,"tickWidth":1.5,"labelFontSize":26,"labelPadding":14,"labelFlush":false,
    "title":"Standing Water Level (mAHD)","titleFontSize":26.5,"titleAngle":-90,"titleX":-89,"titleY":573,"titleAlign":"center","titleBaseline":"alphabetic"}},
  "color":{"datum":"Data logger (MAHD)","type":"nominal","scale":{"domain":["Data logger (MAHD)","Rainfall (mm)"],"range":["#000080","#FF00FF"]},"legend":{"title":null}},
  "shape":{"datum":"Data logger (MAHD)","type":"nominal","scale":{"domain":["Data logger (MAHD)","Rainfall (mm)"],"range":["M0,-1.25L1,0L0,1.25L-1,0Z","square"]},"legend":{"title":null}}
 }},
{"data":{"name":"rain"},
 "mark":{"type":"point","filled":true,"opacity":1,"size":210,"strokeWidth":0},
 "encoding":{
  "y":{"field":"r","type":"quantitative","scale":{"domain":[0,110],"nice":false},
   "axis":{"orient":"right","values":[0,10,20,30,40,50,60,70,80,90,100,110],"grid":false,"domainWidth":2,"tickSize":8,"tickWidth":1.5,"labelFontSize":26,"labelPadding":20,"labelFlush":false,
    "title":["Daily","Rain","(mm)"],"titleFontSize":25,"titleFontWeight":"bold","titleAngle":0,"titleX":91,"titleY":540,"titleAlign":"center","titleBaseline":"alphabetic","titleLineHeight":29}},
  "color":{"datum":"Rainfall (mm)","type":"nominal"},
  "shape":{"datum":"Rainfall (mm)","type":"nominal"}
 }}
],
"resolve":{"scale":{"y":"independent"},"axis":{"y":"independent"}}
}
